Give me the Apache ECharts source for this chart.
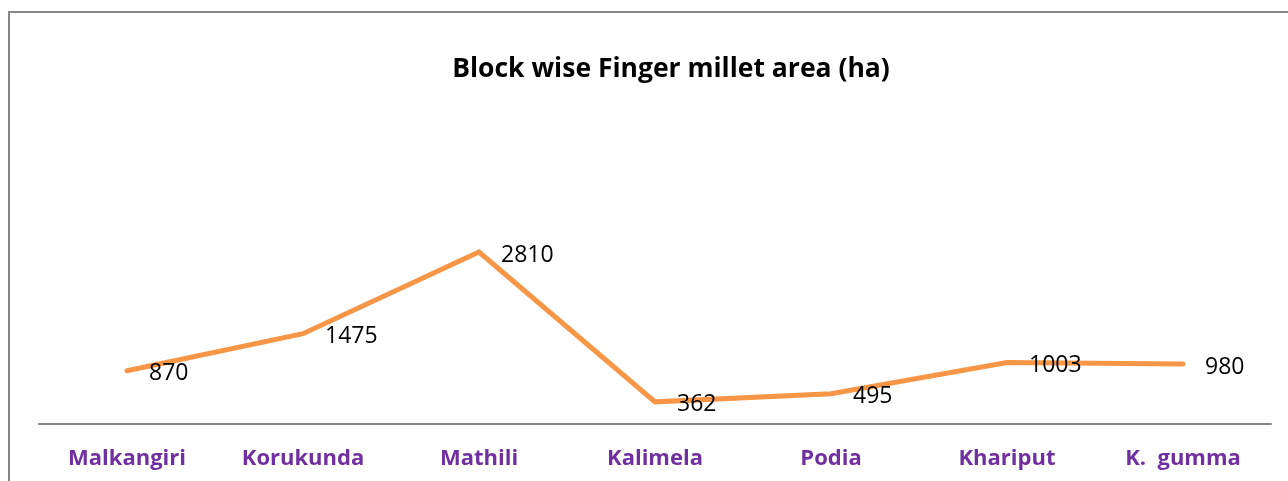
<!DOCTYPE html>
<html>
<head>
<meta charset="utf-8">
<script src="https://cdn.jsdelivr.net/npm/echarts@6/dist/echarts.min.js"></script>
<style>
  html, body { margin: 0; padding: 0; background: #fff; }
  #chart { width: 1288px; height: 481px; }
</style>
</head>
<body>
<div id="chart"></div>
<script>
// block names and finger millet area (ha)
var blocks = ['Malkangiri', 'Korukunda', 'Mathili', 'Kalimela', 'Podia', 'Khariput', 'K.  gumma'];
var areaHa = [870, 1475, 2810, 362, 495, 1003, 980];

var chart = echarts.init(document.getElementById('chart'));
chart.setOption({
  animation: false,
  backgroundColor: '#fff',
  title: {
    text: 'Block wise Finger millet area (ha)',
    left: 666,
    top: 51,
    textAlign: 'center',
    textStyle: {
      fontFamily: 'Open Sans',
      fontWeight: 'bold',
      fontSize: 26.5,
      color: '#000'
    }
  },
  graphic: [{
    type: 'rect',
    shape: { x: 9, y: 12, width: 1400, height: 600 },
    style: { fill: 'none', stroke: '#878787', lineWidth: 2 },
    silent: true
  }],
  grid: { left: 39, right: 17, top: 118, bottom: 57 },
  xAxis: {
    type: 'category',
    data: blocks,
    boundaryGap: true,
    axisLine: { lineStyle: { color: '#878787', width: 2 } },
    axisTick: { show: false },
    axisLabel: {
      margin: 24,
      color: '#7030A0',
      fontFamily: 'Open Sans',
      fontWeight: 'bold',
      fontSize: 22
    }
  },
  yAxis: {
    type: 'value',
    min: 0,
    max: 5000,
    show: false,
    splitLine: { show: false }
  },
  series: [{
    type: 'line',
    data: areaHa,
    symbol: 'circle',
    symbolSize: 0,
    showSymbol: true,
    lineStyle: { color: '#F79646', width: 5, cap: 'round', join: 'miter' },
    itemStyle: { color: '#F79646' },
    label: {
      show: true,
      position: 'right',
      distance: 22,
      offset: [0, 3],
      color: '#000',
      fontFamily: 'Open Sans',
      fontSize: 23
    }
  }]
});
</script>
</body>
</html>
